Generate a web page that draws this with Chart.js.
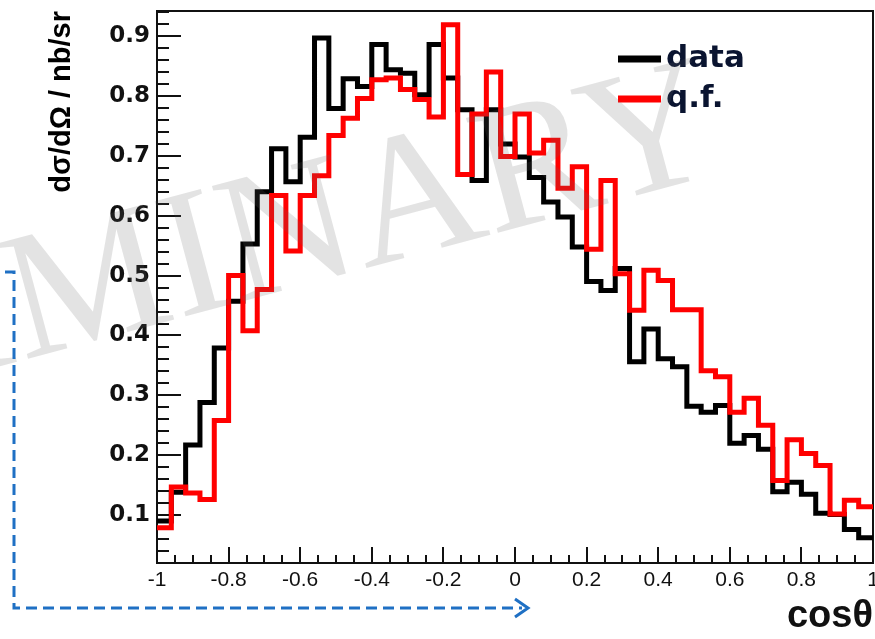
<!DOCTYPE html>
<html>
<head>
<meta charset="utf-8">
<script src="https://cdn.jsdelivr.net/npm/chart.js@4.4.1/dist/chart.umd.min.js"></script>
<style>
  html, body { margin: 0; padding: 0; background: #fff; }
  #wrap { width: 875px; height: 639px; }
</style>
</head>
<body>
<div id="wrap"><canvas id="xsec" width="875" height="639"></canvas></div>
<script>
// cos(theta) distribution, 50 bins between -1 and 1
const binLow = -1;
const binWidth = 0.04;

const dataValues = [
  0.090, 0.138, 0.217, 0.288, 0.379, 0.457, 0.553, 0.640, 0.712, 0.657,
  0.731, 0.897, 0.779, 0.829, 0.816, 0.886, 0.844, 0.838, 0.802, 0.886,
  0.830, 0.777, 0.659, 0.777, 0.720, 0.698, 0.664, 0.623, 0.598, 0.548,
  0.490, 0.475, 0.512, 0.356, 0.411, 0.361, 0.348, 0.282, 0.272, 0.283,
  0.220, 0.233, 0.210, 0.139, 0.155, 0.135, 0.103, 0.101, 0.076, 0.062
];

const qfValues = [
  0.079, 0.147, 0.137, 0.126, 0.258, 0.500, 0.408, 0.477, 0.634, 0.541,
  0.634, 0.667, 0.734, 0.763, 0.796, 0.827, 0.830, 0.811, 0.794, 0.765,
  0.919, 0.669, 0.770, 0.840, 0.699, 0.770, 0.705, 0.726, 0.646, 0.682,
  0.544, 0.659, 0.503, 0.442, 0.509, 0.492, 0.443, 0.443, 0.341, 0.331,
  0.272, 0.295, 0.250, 0.158, 0.226, 0.203, 0.183, 0.102, 0.125, 0.114
];

const xTickValues = [-1, -0.8, -0.6, -0.4, -0.2, 0, 0.2, 0.4, 0.6, 0.8, 1];
const xTickLabels = ['-1', '-0.8', '-0.6', '-0.4', '-0.2', '0', '0.2', '0.4', '0.6', '0.8', '1'];
const yTickValues = [0.1, 0.2, 0.3, 0.4, 0.5, 0.6, 0.7, 0.8, 0.9];
const yTickLabels = ['0.1', '0.2', '0.3', '0.4', '0.5', '0.6', '0.7', '0.8', '0.9'];

const seriesNames = ['data', 'q.f.'];
const seriesColors = ['#000000', '#ff0000'];

const sans = "'Liberation Sans', Arial, sans-serif";

// left bin edges plus the closing edge at +1
function histPoints(values) {
  const pts = values.map((v, i) => ({ x: binLow + i * binWidth, y: v }));
  pts.push({ x: binLow + values.length * binWidth, y: values[values.length - 1] });
  return pts;
}

// ROOT style frame with inward ticks
const frameTicks = {
  id: 'frameTicks',
  beforeDatasetsDraw(chart) {
    const { ctx, chartArea: a, scales: { x, y } } = chart;
    ctx.save();
    ctx.strokeStyle = '#111';
    ctx.lineWidth = 2;
    ctx.beginPath();
    for (let k = 0; k <= 40; k++) {
      const px = Math.round(x.getPixelForValue(-1 + k * 0.05));
      const len = k % 4 === 0 ? 16 : 8;
      ctx.moveTo(px, a.bottom);
      ctx.lineTo(px, a.bottom - len);
    }
    for (let k = 1; k <= 47; k++) {
      const py = Math.round(y.getPixelForValue(k * 0.02));
      const len = k % 5 === 0 ? 24 : 12;
      ctx.moveTo(a.left, py);
      ctx.lineTo(a.left + len, py);
    }
    ctx.stroke();
    ctx.strokeRect(a.left, a.top, a.right - a.left, a.bottom - a.top);
    ctx.restore();
  }
};

const histLegend = {
  id: 'histLegend',
  afterDatasetsDraw(chart) {
    const { ctx, chartArea: a } = chart;
    ctx.save();
    ctx.font = "bold 31px 'DejaVu Sans', sans-serif";
    ctx.textBaseline = 'middle';
    seriesNames.forEach((name, i) => {
      const ly = a.top + 48 + i * 40;
      ctx.strokeStyle = seriesColors[i];
      ctx.lineWidth = 7;
      ctx.beginPath();
      ctx.moveTo(a.right - 255, ly);
      ctx.lineTo(a.right - 212, ly);
      ctx.stroke();
      ctx.fillStyle = '#0a1430';
      ctx.fillText(name, a.right - 207, ly);
    });
    ctx.restore();
  }
};

const watermark = {
  id: 'watermark',
  afterDraw(chart) {
    const { ctx } = chart;
    ctx.save();
    ctx.font = "182px 'Liberation Serif', 'DejaVu Serif', serif";
    ctx.fillStyle = 'rgba(100, 100, 100, 0.18)';
    ctx.translate(23, 360);
    ctx.rotate(-15 * Math.PI / 180);
    const pre = ctx.measureText('PRELI').width;
    ctx.fillText('PRELIMINARY', -pre, 0);
    ctx.restore();

    // dashed blue pointer along the axes
    ctx.save();
    ctx.strokeStyle = '#1f70c4';
    ctx.lineWidth = 3;
    ctx.setLineDash([11, 6]);
    ctx.beginPath();
    ctx.moveTo(5, 272);
    ctx.lineTo(14, 272);
    ctx.lineTo(14, 608);
    ctx.lineTo(522, 608);
    ctx.stroke();
    ctx.setLineDash([]);
    ctx.beginPath();
    ctx.moveTo(515, 599);
    ctx.lineTo(528, 608);
    ctx.lineTo(515, 617);
    ctx.stroke();
    ctx.restore();
  }
};

new Chart(document.getElementById('xsec'), {
  type: 'line',
  data: {
    datasets: [
      {
        label: seriesNames[0],
        data: histPoints(dataValues),
        borderColor: seriesColors[0],
        borderWidth: 5,
        stepped: 'before',
        pointRadius: 0,
        borderJoinStyle: 'miter',
        fill: false,
        order: 2
      },
      {
        label: seriesNames[1],
        data: histPoints(qfValues),
        borderColor: seriesColors[1],
        borderWidth: 5,
        stepped: 'before',
        pointRadius: 0,
        borderJoinStyle: 'miter',
        fill: false,
        order: 1
      }
    ]
  },
  options: {
    responsive: false,
    animation: false,
    layout: { padding: { top: 11, right: 2, left: 0, bottom: 0 } },
    plugins: {
      legend: { display: false },
      tooltip: { enabled: false }
    },
    scales: {
      x: {
        type: 'linear',
        min: -1,
        max: 1,
        grid: { display: false, drawTicks: false },
        border: { display: false },
        afterBuildTicks(scale) {
          scale.ticks = xTickValues.map(v => ({ value: v }));
        },
        afterFit(scale) {
          scale.height = 76;
          scale.paddingLeft = 0;
          scale.paddingRight = 0;
        },
        ticks: {
          autoSkip: false,
          maxRotation: 0,
          padding: 5,
          color: '#111',
          font: { family: sans, size: 21 },
          callback: (v, i) => xTickLabels[i]
        },
        title: {
          display: true,
          text: 'cosθ',
          align: 'end',
          color: '#111',
          padding: { top: 0, bottom: 0 },
          font: { family: sans, weight: 'bold', size: 38 }
        }
      },
      y: {
        type: 'linear',
        min: 0.02,
        max: 0.942,
        grid: { display: false, drawTicks: false },
        border: { display: false },
        afterBuildTicks(scale) {
          scale.ticks = yTickValues.map(v => ({ value: v }));
        },
        afterFit(scale) {
          scale.width = 157;
          scale.paddingTop = 0;
          scale.paddingBottom = 0;
        },
        ticks: {
          autoSkip: false,
          padding: 7,
          color: '#111',
          font: { family: "'DejaVu Sans', sans-serif", weight: 'bold', size: 23 },
          callback: (v, i) => yTickLabels[i]
        },
        title: {
          display: true,
          text: 'dσ/dΩ / nb/sr',
          align: 'end',
          color: '#000',
          padding: { top: 45, bottom: 0 },
          font: { family: sans, weight: 'bold', size: 29 }
        }
      }
    }
  },
  plugins: [frameTicks, histLegend, watermark]
});
</script>
</body>
</html>
